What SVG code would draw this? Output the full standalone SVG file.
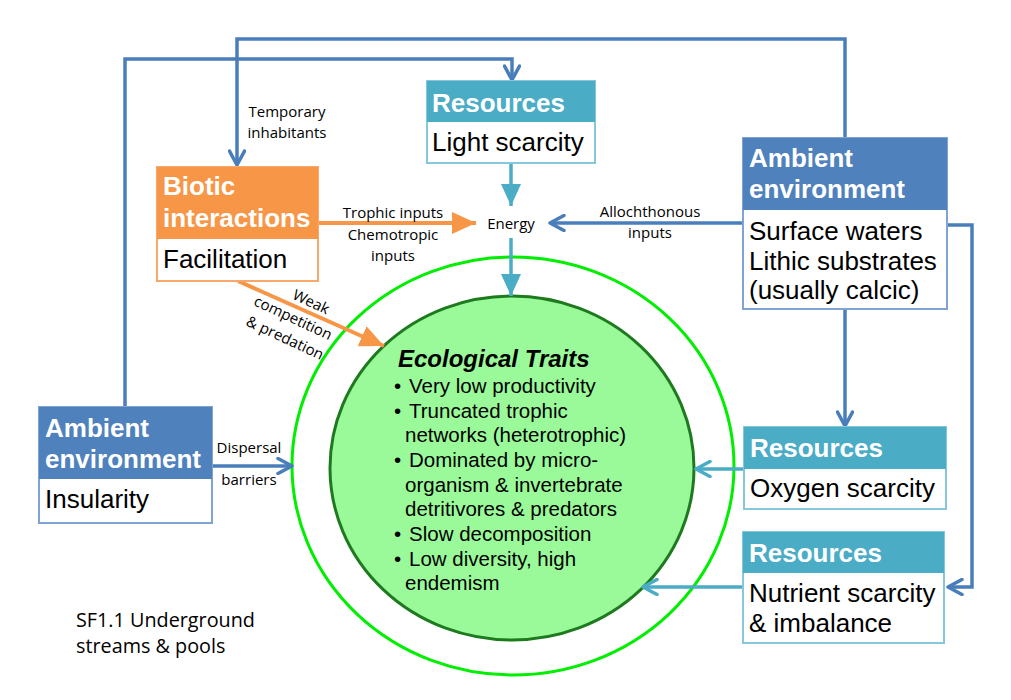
<svg xmlns="http://www.w3.org/2000/svg" width="1011" height="700" viewBox="0 0 1011 700">
<style>
.hdr{font-family:"Liberation Sans",Arial,sans-serif;font-weight:bold;font-size:26px;fill:#fff}
.body{font-family:"Liberation Sans",Arial,sans-serif;font-size:26px;fill:#000}
.lbl{font-family:"Open Sans","Liberation Sans",sans-serif;font-size:15px;fill:#000}
.trait{font-family:"Liberation Sans",Arial,sans-serif;font-size:20.5px;fill:#000}
.blue{stroke:#4A7EBB;stroke-width:3.5;fill:none}
.teal{stroke:#4BACC6;stroke-width:3.5;fill:none}
.orange{stroke:#F79646;stroke-width:4;fill:none}
</style>
<defs>
<marker id="chevBlue" markerUnits="userSpaceOnUse" viewBox="0 0 18 18" markerWidth="18" markerHeight="18" refX="16" refY="9" orient="auto">
<path d="M2,1.5 L16,9 L2,16.5" fill="none" stroke="#4A7EBB" stroke-width="3.5" stroke-linejoin="round" stroke-linecap="round"/>
</marker>
<marker id="chevTeal" markerUnits="userSpaceOnUse" viewBox="0 0 18 18" markerWidth="18" markerHeight="18" refX="16" refY="9" orient="auto">
<path d="M2,1.5 L16,9 L2,16.5" fill="none" stroke="#4BACC6" stroke-width="3.5" stroke-linejoin="round" stroke-linecap="round"/>
</marker>
<marker id="triTeal" markerUnits="userSpaceOnUse" viewBox="0 0 22 20" markerWidth="22" markerHeight="20" refX="22" refY="10" orient="auto">
<path d="M0,0 L22,10 L0,20 Z" fill="#4BACC6"/>
</marker>
<marker id="triOrange" markerUnits="userSpaceOnUse" viewBox="0 0 24 22" markerWidth="24" markerHeight="22" refX="24" refY="11" orient="auto">
<path d="M0,0 L24,11 L0,22 Z" fill="#F79646"/>
</marker>
</defs>
<rect width="1011" height="700" fill="#fff"/>

<g id="traits">
<ellipse cx="513" cy="466" rx="221" ry="209" fill="none" stroke="#00EE00" stroke-width="3"/>
<ellipse cx="512" cy="468" rx="182" ry="172" fill="#9AFA9A" stroke="#1E7A1E" stroke-width="3"/>
<text x="398" y="367" font-family="Liberation Sans, Arial, sans-serif" font-weight="bold" font-style="italic" font-size="24" fill="#000">Ecological Traits</text>
<g class="trait">
<text x="394" y="393">•</text><text x="409" y="393">Very low productivity</text>
<text x="394" y="418">•</text><text x="409" y="418">Truncated trophic</text>
<text x="405" y="442">networks (heterotrophic)</text>
<text x="394" y="467">•</text><text x="409" y="467">Dominated by micro-</text>
<text x="405" y="492">organism &amp; invertebrate</text>
<text x="405" y="516">detritivores &amp; predators</text>
<text x="394" y="541">•</text><text x="409" y="541">Slow decomposition</text>
<text x="394" y="566">•</text><text x="409" y="566">Low diversity, high</text>
<text x="405" y="590">endemism</text>
</g>
</g>

<g id="connectors">
<path class="blue" d="M845,138 V39 H237 V165" marker-end="url(#chevBlue)"/>
<path class="blue" d="M125,407 V59 H512 V80" marker-end="url(#chevBlue)"/>
<path class="teal" d="M511,163 V206" marker-end="url(#triTeal)"/>
<path class="teal" d="M511,238 V296" marker-end="url(#triTeal)"/>
<path class="orange" d="M318,223 H476" marker-end="url(#triOrange)"/>
<path class="blue" d="M743,223 H550" marker-end="url(#chevBlue)"/>
<path class="orange" d="M238,281 L384,346" marker-end="url(#triOrange)"/>
<path class="blue" d="M212,466 H292" marker-end="url(#chevBlue)"/>
<path class="blue" d="M845,309 V426" marker-end="url(#chevBlue)"/>
<path class="blue" d="M947,225 H972 V587 H948" marker-end="url(#chevBlue)"/>
<path class="teal" d="M744,469 H696" marker-end="url(#chevTeal)"/>
<path class="teal" d="M743,587 H643" marker-end="url(#chevTeal)"/>
<g class="lbl">
<text x="287" y="117" text-anchor="middle">Temporary</text>
<text x="287" y="138" text-anchor="middle">inhabitants</text>
<text x="393" y="218" text-anchor="middle">Trophic inputs</text>
<text x="393" y="240" text-anchor="middle">Chemotropic</text>
<text x="393" y="261" text-anchor="middle">inputs</text>
<text x="650" y="217" text-anchor="middle">Allochthonous</text>
<text x="650" y="238" text-anchor="middle">inputs</text>
<text x="249" y="453" text-anchor="middle">Dispersal</text>
<text x="249" y="485" text-anchor="middle">barriers</text>
<text x="311" y="307" text-anchor="middle" transform="rotate(25 311 302)">Weak</text>
<text x="293" y="323" text-anchor="middle" transform="rotate(25 293 318)">competition</text>
<text x="285" y="343" text-anchor="middle" transform="rotate(25 285 338)">&amp; predation</text>
</g>
</g>

<g id="energy">
<text x="511" y="229" text-anchor="middle" class="lbl">Energy</text>
</g>

<g id="res-light">
<rect x="427" y="81" width="168" height="82" fill="#fff" stroke="#86C8DA" stroke-width="2"/>
<rect x="427" y="81" width="168" height="41" fill="#4BACC6"/>
<text x="432" y="112" class="hdr">Resources</text>
<text x="432" y="151" class="body">Light scarcity</text>
</g>

<g id="biotic">
<rect x="157" y="167" width="161" height="114" fill="#fff" stroke="#F8A86A" stroke-width="2"/>
<rect x="157" y="167" width="161" height="72" fill="#F79646"/>
<text x="163" y="195" class="hdr">Biotic</text>
<text x="163" y="227" class="hdr">interactions</text>
<text x="163" y="268" class="body">Facilitation</text>
</g>

<g id="ambient-right">
<rect x="743" y="138" width="204" height="171" fill="#fff" stroke="#7FA3D3" stroke-width="2"/>
<rect x="743" y="138" width="204" height="72" fill="#4F81BD"/>
<text x="749" y="167" class="hdr">Ambient</text>
<text x="749" y="198" class="hdr">environment</text>
<text x="749" y="240" class="body">Surface waters</text>
<text x="749" y="270" class="body">Lithic substrates</text>
<text x="749" y="299" class="body" font-size="23">(usually calcic)</text>
</g>

<g id="ambient-left">
<rect x="39" y="407" width="173" height="116" fill="#fff" stroke="#7FA3D3" stroke-width="2"/>
<rect x="39" y="407" width="173" height="72" fill="#4F81BD"/>
<text x="45" y="437" class="hdr">Ambient</text>
<text x="45" y="468" class="hdr">environment</text>
<text x="45" y="508" class="body">Insularity</text>
</g>

<g id="res-oxygen">
<rect x="744" y="427" width="202" height="82" fill="#fff" stroke="#86C8DA" stroke-width="2"/>
<rect x="744" y="427" width="202" height="42" fill="#4BACC6"/>
<text x="750" y="457" class="hdr">Resources</text>
<text x="750" y="497" class="body">Oxygen scarcity</text>
</g>

<g id="res-nutrient">
<rect x="743" y="532" width="201" height="111" fill="#fff" stroke="#86C8DA" stroke-width="2"/>
<rect x="743" y="532" width="201" height="41" fill="#4BACC6"/>
<text x="749" y="562" class="hdr">Resources</text>
<text x="749" y="602" class="body">Nutrient scarcity</text>
<text x="749" y="632" class="body">&amp; imbalance</text>
</g>

<g id="caption">
<text x="76" y="627" font-family="Open Sans, Liberation Sans, sans-serif" font-size="19.8" fill="#000">SF1.1 Underground</text>
<text x="76" y="653" font-family="Open Sans, Liberation Sans, sans-serif" font-size="19.8" fill="#000">streams &amp; pools</text>
</g>
</svg>
